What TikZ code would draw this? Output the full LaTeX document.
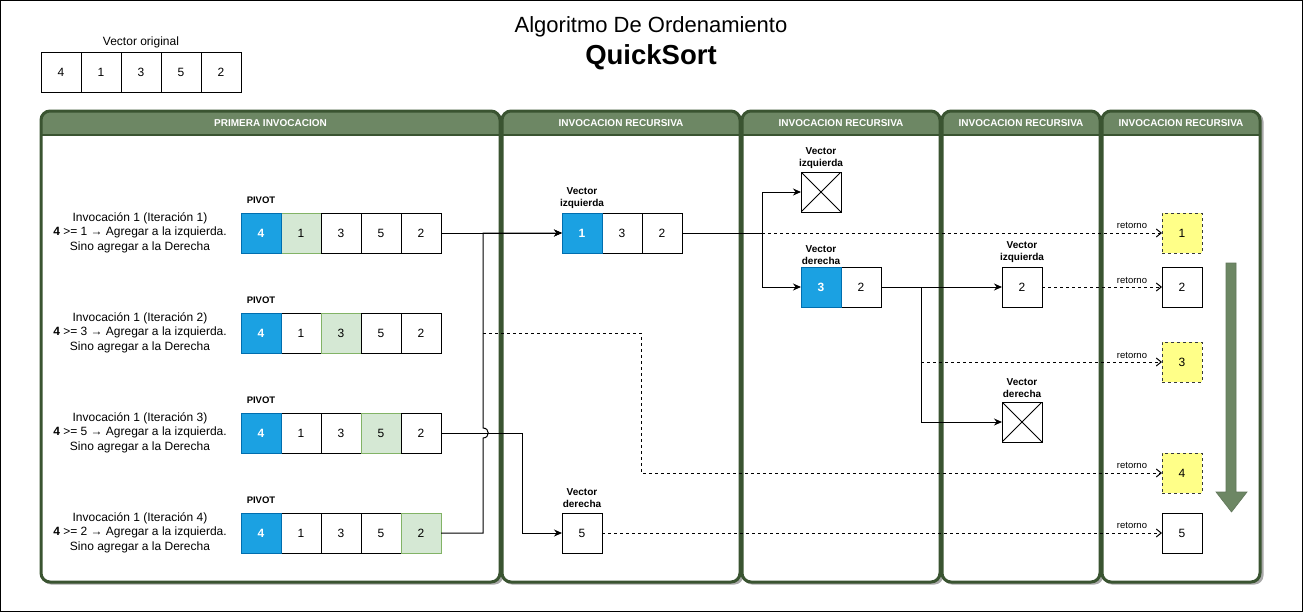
\documentclass[tikz,border=0pt]{standalone}
\usepackage{fontspec}
\setmainfont{Liberation Sans}
\usetikzlibrary{arrows.meta}

\definecolor{lanegreen}{HTML}{6D8764}
\definecolor{laneborder}{HTML}{3A5431}
\definecolor{lanedrop}{HTML}{A8A8A8}
\definecolor{pivotblue}{HTML}{1BA1E2}
\definecolor{pivotline}{HTML}{006EAF}
\definecolor{pickfill}{HTML}{D5E8D4}
\definecolor{pickline}{HTML}{82B366}
\definecolor{notefill}{HTML}{FFFF88}
\definecolor{noteline}{HTML}{36393D}

\begin{document}
\begin{tikzpicture}[x=1pt,y=-1pt,
  every node/.style={font=\fontsize{12}{14.5}\selectfont},
  cell/.style={draw=black, fill=white, line width=1pt, minimum width=40pt,
    minimum height=40pt, inner sep=0pt, outer sep=0pt},
  pivotcell/.style={cell, fill=pivotblue, draw=pivotline, text=white,
    font=\fontsize{12}{14.5}\selectfont\bfseries},
  pickcell/.style={cell, fill=pickfill, draw=pickline},
  notecell/.style={cell, fill=notefill, draw=noteline, dash pattern=on 3pt off 3pt},
  emptycell/.style={cell, path picture={
      \draw[line width=0.8pt]
        (path picture bounding box.north west) -- (path picture bounding box.south east)
        (path picture bounding box.south west) -- (path picture bounding box.north east);}},
  tag/.style={font=\fontsize{10}{12}\selectfont\bfseries, align=center, inner sep=0pt},
  pivottag/.style={font=\fontsize{9.5}{11}\selectfont\bfseries, inner sep=0pt},
  steptext/.style={align=center, inner sep=0pt, font=\fontsize{12}{14.5}\selectfont},
  rettag/.style={font=\fontsize{9.5}{11}\selectfont, inner sep=0pt},
  hdr/.style={text=white, font=\fontsize{10}{12}\selectfont\bfseries, inner sep=0pt},
  wire/.style={line width=1pt},
  conn/.style={line width=1pt, -{Stealth[length=8pt,width=7pt]}},
  back/.style={line width=1pt, dash pattern=on 3pt off 3pt,
    -{Straight Barb[length=5pt,width=8pt,line width=1pt]}}
]
\useasboundingbox (0,0) rectangle (1304,614);
\draw[line width=1pt] (0.5,0.5) rectangle (1302.5,611.5);

% swimlanes
\foreach \a/\b/\t in {41/500/PRIMERA INVOCACION, 502/740/INVOCACION RECURSIVA,
    742/940/INVOCACION RECURSIVA, 942/1100/INVOCACION RECURSIVA,
    1102/1260/INVOCACION RECURSIVA} {
  \fill[lanedrop, rounded corners=9pt] (\a+1,112.5) rectangle (\b+3.5,584.5);
  \fill[white, rounded corners=9pt] (\a,111) rectangle (\b,582);
  \begin{scope}
    \clip[rounded corners=9pt] (\a,111) rectangle (\b,582);
    \fill[lanegreen] (\a,111) rectangle (\b,135);
  \end{scope}
  \draw[laneborder, line width=3pt, rounded corners=9pt] (\a,111) rectangle (\b,582);
  \draw[laneborder, line width=2.5pt] (\a,135) -- (\b,135);
  \node[hdr] at ({(\a+\b)/2},123.5) {\t};
}

% titles
\node[font=\fontsize{22}{26}\selectfont] (title) at (651,27) {Algoritmo De Ordenamiento};
\node[font=\fontsize{27.5}{32}\selectfont\bfseries] (algname) at (651,57) {QuickSort};

% original vector
\node (origlbl) at (141,42) {Vector original};
\node[cell] (o1) at (61,72) {4};
\node[cell] (o2) at (101,72) {1};
\node[cell] (o3) at (141,72) {3};
\node[cell] (o4) at (181,72) {5};
\node[cell] (o5) at (221,72) {2};

% first invocation: four iterations
\node[steptext] (s1) at (140,232.5) {Invocación 1 (Iteración 1)\\\textbf{4} >= 1 → Agregar a la izquierda.\\Sino agregar a la Derecha};
\node[steptext] (s2) at (140,332.5) {Invocación 1 (Iteración 2)\\\textbf{4} >= 3 → Agregar a la izquierda.\\Sino agregar a la Derecha};
\node[steptext] (s3) at (140,432.5) {Invocación 1 (Iteración 3)\\\textbf{4} >= 5 → Agregar a la izquierda.\\Sino agregar a la Derecha};
\node[steptext] (s4) at (140,532.5) {Invocación 1 (Iteración 4)\\\textbf{4} >= 2 → Agregar a la izquierda.\\Sino agregar a la Derecha};

\node[pivottag] (p1) at (261,200) {PIVOT};
\node[pivottag] (p2) at (261,300) {PIVOT};
\node[pivottag] (p3) at (261,400) {PIVOT};
\node[pivottag] (p4) at (261,500) {PIVOT};

\node[pickcell] (r1c2) at (301,233) {1};
\node[cell] (r1c3) at (341,233) {3};
\node[cell] (r1c4) at (381,233) {5};
\node[cell] (r1c5) at (421,233) {2};
\node[pivotcell] (r1c1) at (261,233) {4};

\node[cell] (r2c2) at (301,333) {1};
\node[pickcell] (r2c3) at (341,333) {3};
\node[cell] (r2c4) at (381,333) {5};
\node[cell] (r2c5) at (421,333) {2};
\node[pivotcell] (r2c1) at (261,333) {4};

\node[cell] (r3c2) at (301,433) {1};
\node[cell] (r3c3) at (341,433) {3};
\node[pickcell] (r3c4) at (381,433) {5};
\node[cell] (r3c5) at (421,433) {2};
\node[pivotcell] (r3c1) at (261,433) {4};

\node[cell] (r4c2) at (301,533) {1};
\node[cell] (r4c3) at (341,533) {3};
\node[cell] (r4c4) at (381,533) {5};
\node[pickcell] (r4c5) at (421,533) {2};
\node[pivotcell] (r4c1) at (261,533) {4};

% second level
\node[tag] (tli) at (582,198) {Vector\\izquierda};
\node[cell] (li2) at (622,233) {3};
\node[cell] (li3) at (662,233) {2};
\node[pivotcell] (li1) at (582,233) {1};
\node[tag] (tld) at (582,498) {Vector\\derecha};
\node[cell] (ld1) at (582,533) {5};

% third level
\node[tag] (tcx1) at (821,158) {Vector\\izquierda};
\node[emptycell] (cx1) at (821,192) {};
\node[tag] (tvd) at (821,255.5) {Vector\\derecha};
\node[cell] (vd2) at (861,287) {2};
\node[pivotcell] (vd1) at (821,287) {3};

% fourth level
\node[tag] (tvi) at (1022,252) {Vector\\izquierda};
\node[cell] (vi1) at (1022,287) {2};
\node[tag] (tcx2) at (1022,388) {Vector\\derecha};
\node[emptycell] (cx2) at (1022,422) {};

% returned values
\node[notecell] (ret1) at (1182,233) {1};
\node[cell] (ret2) at (1182,287) {2};
\node[notecell] (ret3) at (1182,362) {3};
\node[notecell] (ret4) at (1182,473) {4};
\node[cell] (ret5) at (1182,533) {5};

% order arrow
\draw[fill=lanegreen, draw=laneborder!80, line width=0.6pt]
  (1226,263) -- (1236,263) -- (1236,492) -- (1247,492) -- (1231.5,512)
  -- (1216,492) -- (1226,492) -- cycle;

% junction points
\coordinate (busTop) at (483,233);
\coordinate (busMid) at (483,333);
\coordinate (busJump) at (483,438);
\coordinate (busJumpEnd) at (483,428);
\coordinate (busLow) at (483,533);
\coordinate (rightDrop) at (522,433);
\coordinate (tap2) at (641,333);
\coordinate (split1) at (762,233);
\coordinate (split2) at (921,287);
\coordinate (tap3) at (921,362);

% connectors of the first invocation
\draw[conn] (r1c5.east) -- (li1.west);
\draw[conn] (r4c5.east) -- (busLow) -- (busJump)
  .. controls +(7,0) and +(7,0) .. (busJumpEnd) -- (busTop) -- (li1.west);
\draw[conn] (r3c5.east) -- (rightDrop) |- (ld1.west);
\draw[back] (busMid) -- (tap2) |- (ret4.west);

% connectors of the recursive invocations
\draw[back] (split1) -- (ret1.west);
\draw[wire] (li3.east) -- (split1);
\draw[conn] (split1) |- (cx1.west);
\draw[conn] (split1) |- (vd1.west);
\draw[conn] (vd2.east) -- (vi1.west);
\draw[conn] (split2) |- (cx2.west);
\draw[back] (tap3) -- (ret3.west);
\draw[back] (vi1.east) -- (ret2.west);
\draw[back] (ld1.east) -- (ret5.west);

% return labels
\node[rettag] (rt1) at (1132,225) {retorno};
\node[rettag] (rt2) at (1132,280) {retorno};
\node[rettag] (rt3) at (1132,355) {retorno};
\node[rettag] (rt4) at (1132,465) {retorno};
\node[rettag] (rt5) at (1132,525) {retorno};
\end{tikzpicture}
\end{document}
